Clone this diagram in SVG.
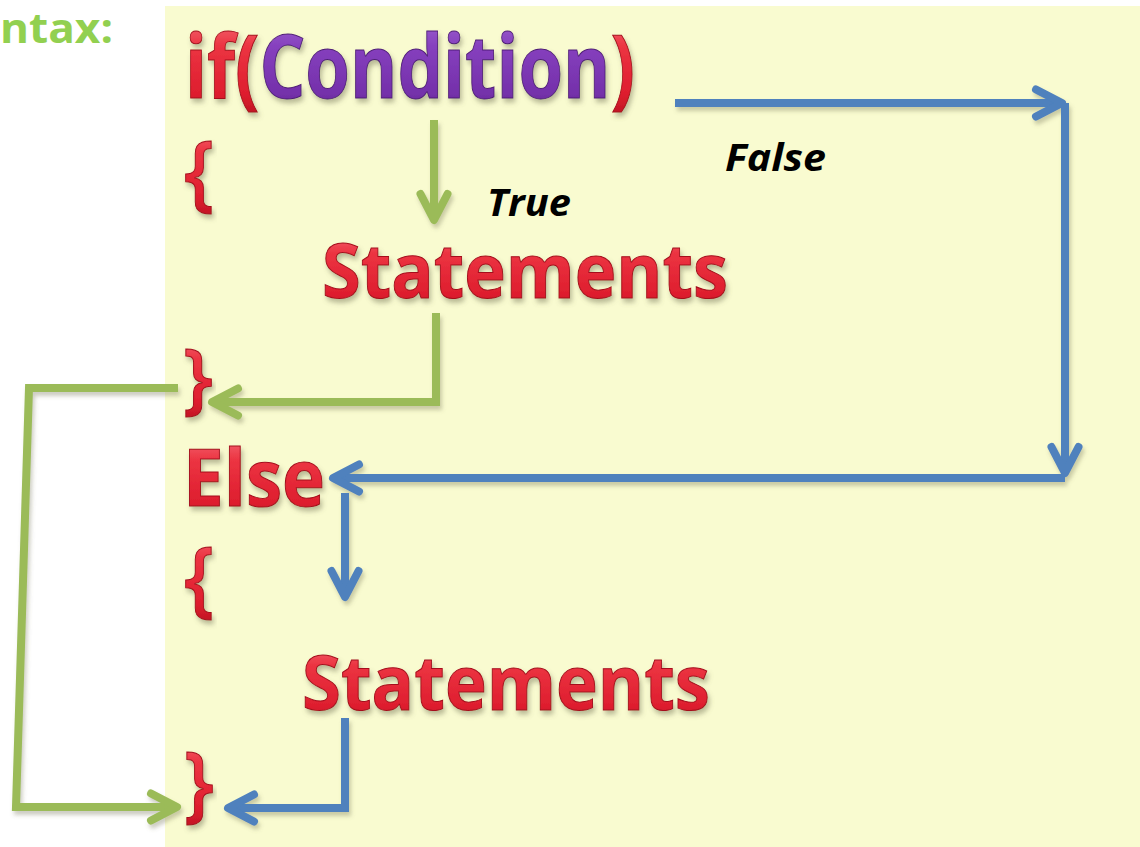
<svg xmlns="http://www.w3.org/2000/svg" width="1140" height="847" viewBox="0 0 1140 847">
  <defs>
    <linearGradient id="redGloss" x1="0" y1="0" x2="0" y2="1">
      <stop offset="0" stop-color="#F7868E"/>
      <stop offset="0.35" stop-color="#EC3442"/>
      <stop offset="0.75" stop-color="#DE1E2E"/>
      <stop offset="1" stop-color="#B01220"/>
    </linearGradient>
    <linearGradient id="purpleGloss" x1="0" y1="0" x2="0" y2="1">
      <stop offset="0" stop-color="#A874D6"/>
      <stop offset="0.35" stop-color="#8640BE"/>
      <stop offset="0.75" stop-color="#7430AA"/>
      <stop offset="1" stop-color="#54207E"/>
    </linearGradient>
    <filter id="textShadow" x="-10%" y="-20%" width="120%" height="150%">
      <feDropShadow dx="2" dy="4" stdDeviation="2.5" flood-color="#6B6B50" flood-opacity="0.45"/>
    </filter>
    <filter id="lineShadow" x="-10%" y="-10%" width="120%" height="120%">
      <feDropShadow dx="2" dy="4" stdDeviation="2" flood-color="#707050" flood-opacity="0.35"/>
    </filter>
    <marker id="headGreen" markerUnits="userSpaceOnUse" orient="auto" markerWidth="40" markerHeight="40" viewBox="-34 -20 40 40" refX="0" refY="0" overflow="visible">
      <path d="M-26 -13.5 L0 0 L-26 13.5" fill="none" stroke="#9BBB59" stroke-width="8" stroke-linecap="round" stroke-linejoin="round"/>
    </marker>
    <marker id="headBlue" markerUnits="userSpaceOnUse" orient="auto" markerWidth="40" markerHeight="40" viewBox="-34 -20 40 40" refX="0" refY="0" overflow="visible">
      <path d="M-26 -13.5 L0 0 L-26 13.5" fill="none" stroke="#4F81BD" stroke-width="8" stroke-linecap="round" stroke-linejoin="round"/>
    </marker>
    <style>
      .word { font-family: "Open Sans", "Noto Sans", sans-serif; font-weight: 700; filter: url(#textShadow); }
      .brace { font-family: "Open Sans", "Noto Sans", sans-serif; font-weight: 600; filter: url(#textShadow); }
      .red { fill: url(#redGloss); stroke: #A5101E; stroke-width: 1; }
      .purple { fill: url(#purpleGloss); stroke: #4E1C76; stroke-width: 1; }
      .label { font-family: "Open Sans", "Noto Sans", sans-serif; font-weight: 700; font-style: italic; fill: #000000; }
      .heading { font-family: "Open Sans", "Noto Sans", sans-serif; font-weight: 700; fill: #92D050; }
      .green { fill: none; stroke: #9BBB59; stroke-width: 8; }
      .blue { fill: none; stroke: #4F81BD; stroke-width: 8; }
    </style>
  </defs>

  <!-- page background and slide panel -->
  <rect x="0" y="0" width="1140" height="847" fill="#FFFFFF"/>
  <rect x="165" y="6" width="975" height="841" fill="#F9FBD0"/>

  <text class="heading" x="0" y="43" font-size="42" textLength="113" lengthAdjust="spacingAndGlyphs">ntax:</text>

  <g id="if-condition">
    <text class="word" x="185" y="98" font-size="88" textLength="450" lengthAdjust="spacingAndGlyphs"><tspan class="red">if(</tspan><tspan class="purple">Condition</tspan><tspan class="red">)</tspan></text>
  </g>

  <g id="open-brace-1">
    <text class="brace red" x="184" y="201" font-size="84" textLength="30" lengthAdjust="spacingAndGlyphs">{</text>
  </g>

  <g id="statements-1">
    <text class="word red" x="322" y="298" font-size="76" textLength="406" lengthAdjust="spacingAndGlyphs">Statements</text>
  </g>

  <g id="close-brace-1">
    <text class="brace red" x="183" y="405" font-size="78" textLength="30" lengthAdjust="spacingAndGlyphs">}</text>
  </g>

  <g id="else">
    <text class="word red" x="183" y="506" font-size="78" textLength="142" lengthAdjust="spacingAndGlyphs">Else</text>
  </g>

  <g id="open-brace-2">
    <text class="brace red" x="184" y="607" font-size="84" textLength="30" lengthAdjust="spacingAndGlyphs">{</text>
  </g>

  <g id="statements-2">
    <text class="word red" x="302" y="710" font-size="76" textLength="408" lengthAdjust="spacingAndGlyphs">Statements</text>
  </g>

  <g id="close-brace-2">
    <text class="brace red" x="184" y="812" font-size="84" textLength="30" lengthAdjust="spacingAndGlyphs">}</text>
  </g>

  <g id="connectors" filter="url(#lineShadow)">
    <!-- true branch -->
    <path class="green" d="M434 120 V220" marker-end="url(#headGreen)"/>
    <path class="green" d="M436 313 V402 H212" marker-end="url(#headGreen)"/>
    <path class="green" d="M178 388 H29 L16 807 H177" stroke-linejoin="miter" marker-end="url(#headGreen)"/>
    <!-- false branch -->
    <path class="blue" d="M675 103 H1062" marker-end="url(#headBlue)"/>
    <path class="blue" d="M1065 103 V473" marker-end="url(#headBlue)"/>
    <path class="blue" d="M1065 478 H333" marker-end="url(#headBlue)"/>
    <path class="blue" d="M345 493 V597" marker-end="url(#headBlue)"/>
    <path class="blue" d="M345 718 V808 H228" marker-end="url(#headBlue)"/>
  </g>

  <g id="labels">
    <text class="label" x="487" y="216" font-size="37" textLength="84" lengthAdjust="spacingAndGlyphs">True</text>
    <text class="label" x="725" y="171" font-size="38" textLength="101" lengthAdjust="spacingAndGlyphs">False</text>
  </g>
</svg>
